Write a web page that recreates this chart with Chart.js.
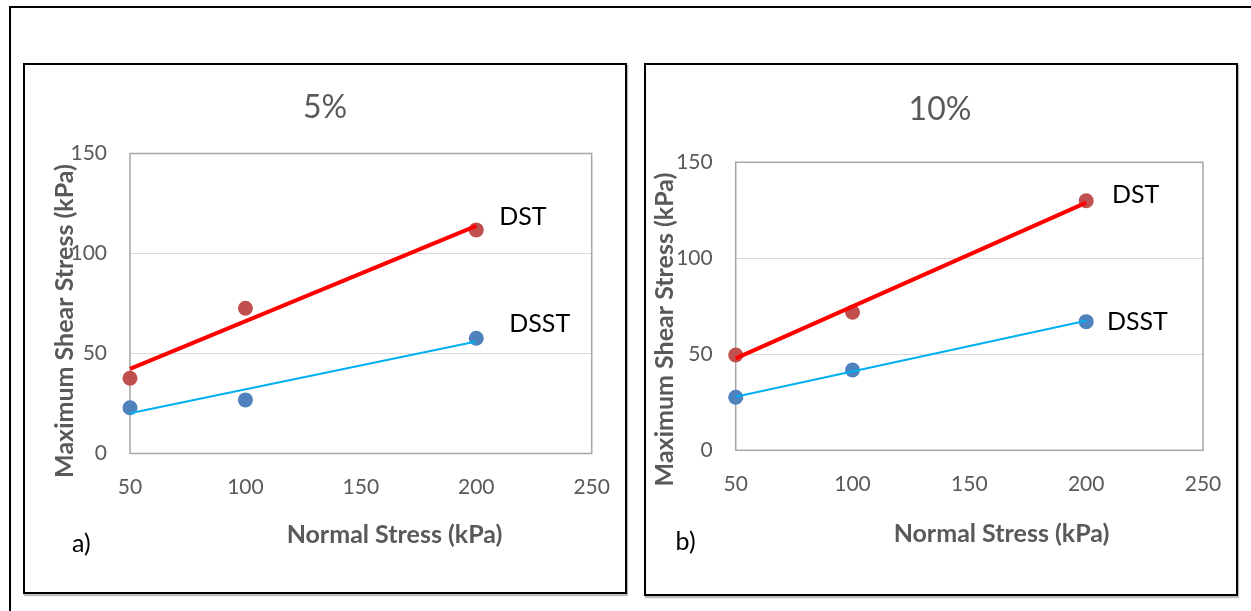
<!DOCTYPE html>
<html>
<head>
<meta charset="utf-8">
<script src="https://cdn.jsdelivr.net/npm/chart.js@4.4.0/dist/chart.umd.min.js"></script>
<style>
  body { margin: 0; background: #fff; }
  #page { position: relative; width: 1251px; height: 611px; overflow: hidden; background: #fff; }
  #frame { position: absolute; left: 9px; top: 6px; width: 1300px; height: 700px; border: 2px solid #000; }
  .panel { position: absolute; border: 2px solid #000; box-shadow: 1px 2px 1px #bbb; background: #fff; }
  #p1 { left: 23px; top: 63px; width: 600px; height: 527px; }
  #p2 { left: 644px; top: 63px; width: 590px; height: 529px; }
  canvas { display: block; }
</style>
</head>
<body>
<div id="page">
  <div id="frame"></div>
  <div class="panel" id="p1"><canvas id="chart5" width="600" height="527"></canvas></div>
  <div class="panel" id="p2"><canvas id="chart10" width="590" height="529"></canvas></div>
</div>
<script>
// valori
const normalStress = [50, 100, 200];
const fitStress = [50, 200];
const xTicks = [50, 100, 150, 200, 250];
const yTicks = [0, 50, 100, 150];
const seriesNames = ['DST', 'DSST'];

// a) 5%
const dst5 = [37.6, 72.6, 111.8];
const dsst5 = [22.9, 26.8, 57.6];
const dst5Fit = [42.3, 113.8];
const dsst5Fit = [20.1, 56.0];

// b) 10%
const dst10 = [49.6, 71.9, 130.0];
const dsst10 = [27.6, 41.8, 67.0];
const dst10Fit = [47.9, 129.0];
const dsst10Fit = [27.9, 67.5];

const grigio = '#595959';
const FONT = 'Lato';

function punti(xs, ys) {
  return xs.map((x, i) => ({ x: x, y: ys[i] }));
}

// testi del pannello: titolo, titoli assi, lettera, etichette serie
const TestiPlugin = {
  id: 'testi',
  beforeDatasetsDraw: (chart) => {
    const ctx = chart.ctx;
    const a = chart.chartArea;
    ctx.save();
    ctx.strokeStyle = '#A6A6A6';
    ctx.lineWidth = 1.5;
    ctx.strokeRect(a.left, a.top, a.right - a.left, a.bottom - a.top);
    ctx.restore();
  },
  afterDraw: (chart) => {
    const ctx = chart.ctx;
    const t = chart.options.plugins.testi;
    ctx.save();

    // titolo
    ctx.font = '32px ' + FONT;
    ctx.fillStyle = grigio;
    ctx.textAlign = 'center';
    ctx.textBaseline = 'alphabetic';
    ctx.fillText(t.title, t.titlePos[0], t.titlePos[1] + 32 * 0.36);

    // titolo asse y
    ctx.font = 'bold 25px ' + FONT;
    ctx.textBaseline = 'middle';
    ctx.save();
    ctx.translate(t.yTitlePos[0], t.yTitlePos[1]);
    ctx.rotate(-Math.PI / 2);
    ctx.fillText('Maximum Shear Stress (kPa)', 0, 0);
    ctx.restore();

    // titolo asse x
    ctx.fillText('Normal Stress (kPa)', t.xTitlePos[0], t.xTitlePos[1]);

    // lettera
    ctx.font = '25px ' + FONT;
    ctx.fillStyle = '#000';
    ctx.textAlign = 'left';
    ctx.fillText(t.letter, t.letterPos[0], t.letterPos[1]);

    // etichette serie vicino all'ultimo punto
    ctx.font = '25px ' + FONT;
    ctx.textBaseline = 'alphabetic';
    t.labelOffsets.forEach((off, i) => {
      const meta = chart.getDatasetMeta(2 + i);
      const p = meta.data[meta.data.length - 1];
      ctx.fillText(seriesNames[i], p.x + off[0], p.y + off[1] + 25 * 0.36);
    });

    ctx.restore();
  }
};

function creaGrafico(id, dst, dsst, dstFit, dsstFit, box, testi) {
  const ctx = document.getElementById(id).getContext('2d');
  return new Chart(ctx, {
    type: 'scatter',
    data: {
      datasets: [
        { label: 'DST fit', data: punti(fitStress, dstFit), showLine: true, borderColor: '#FF0000', borderWidth: 4, pointRadius: 0, order: 0, clip: false },
        { label: 'DSST fit', data: punti(fitStress, dsstFit), showLine: true, borderColor: '#00B0F0', borderWidth: 2, pointRadius: 0, order: 0, clip: false },
        { label: 'DST', data: punti(normalStress, dst), backgroundColor: '#C0504D', borderWidth: 0, pointRadius: 7.5, order: 1, clip: false },
        { label: 'DSST', data: punti(normalStress, dsst), backgroundColor: '#4F81BD', borderWidth: 0, pointRadius: 7.5, order: 1, clip: false }
      ]
    },
    options: {
      responsive: false,
      animation: false,
      layout: { padding: box.padding },
      plugins: {
        legend: { display: false },
        tooltip: { enabled: false },
        testi: testi
      },
      scales: {
        x: {
          type: 'linear',
          min: xTicks[0],
          max: xTicks[xTicks.length - 1],
          afterBuildTicks: (s) => { s.ticks = xTicks.map(v => ({ value: v })); },
          grid: { display: false },
          border: { display: false },
          ticks: { color: grigio, font: { family: FONT, size: 21 }, padding: 13, maxRotation: 0 },
          afterFit: (s) => { s.height = 60; s.paddingLeft = 0; s.paddingRight = 0; }
        },
        y: {
          min: yTicks[0],
          max: yTicks[yTicks.length - 1],
          afterBuildTicks: (s) => { s.ticks = yTicks.map(v => ({ value: v })); },
          grid: { color: '#D9D9D9', lineWidth: 1, drawTicks: false },
          border: { display: false },
          ticks: { color: grigio, font: { family: FONT, size: 21 }, padding: 23 },
          afterFit: (s) => { s.width = 60; s.paddingTop = 0; s.paddingBottom = 0; }
        }
      }
    },
    plugins: [TestiPlugin]
  });
}

creaGrafico('chart5', dst5, dsst5, dst5Fit, dsst5Fit,
  { padding: { left: 45, right: 33.3, top: 88.5, bottom: 78.5 } },
  {
    title: '5%', titlePos: [300, 41.7],
    yTitlePos: [40, 256], xTitlePos: [369.5, 470],
    letter: 'a)', letterPos: [47, 479],
    labelOffsets: [[23, -13.5], [33, -15.8]]
  });

creaGrafico('chart10', dst10, dsst10, dst10Fit, dsst10Fit,
  { padding: { left: 29.7, right: 33, top: 97.3, bottom: 83.7 } },
  {
    title: '10%', titlePos: [294, 43],
    yTitlePos: [19, 264.5], xTitlePos: [355.5, 469],
    letter: 'b)', letterPos: [29.6, 477],
    labelOffsets: [[25.7, -6.7], [20.7, -0.2]]
  });
</script>
</body>
</html>
